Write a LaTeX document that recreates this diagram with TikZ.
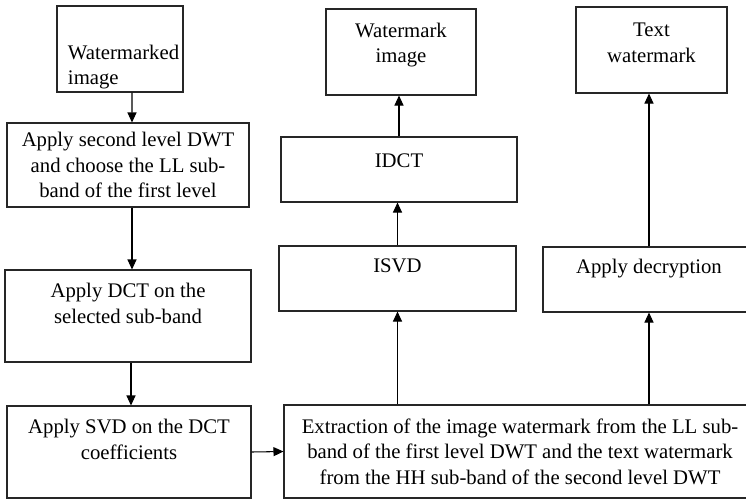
\documentclass[tikz,border=0pt]{standalone}
\usepackage{fontspec}
\setmainfont{Liberation Serif}
\usetikzlibrary{arrows.meta,positioning}

\begin{document}
\begin{tikzpicture}[every node/.style={font=\fontsize{11.8pt}{14.5pt}\selectfont}, stage/.style={draw=black!85, line width=0.6pt, align=center, inner ysep=2pt}, arrow/.style={-{Triangle[length=2mm,width=1.8mm]}, line width=0.6pt}]
\useasboundingbox (0,0) rectangle (14.92,-9.98);
\clip (0,0) rectangle (14.92,-9.98);
% embedding side
\node[stage, minimum width=2.52cm, minimum height=1.72cm, align=left, text width=2.08cm, inner xsep=0.22cm, inner ysep=0pt] (wmimg) at (2.40,-0.98) {\strut\\[4pt]Watermarked\\image};
\node[stage, minimum width=4.84cm, minimum height=1.68cm] (dwt2) at (2.56,-3.30) {Apply second level DWT\\and choose the LL sub-\\band of the first level};
\node[stage, minimum width=4.92cm, minimum height=1.84cm] (dct) at (2.56,-6.32) {Apply DCT on the\\selected sub-band\\\mbox{}};
\node[stage, minimum width=4.88cm, minimum height=1.84cm] (svd) at (2.58,-9.04) {Apply SVD on the DCT\\coefficients\\\mbox{}};
% extraction side
\node[stage, minimum width=9.44cm, minimum height=1.86cm] (extract) at (10.40,-9.03) {Extraction of the image watermark from the LL sub-\\band of the first level DWT and the text watermark\\from the HH sub-band of the second level DWT};
\node[stage, minimum width=4.74cm, minimum height=1.30cm] (isvd) at (7.95,-5.57) {ISVD\\\mbox{}};
\node[stage, minimum width=4.72cm, minimum height=1.30cm] (idct) at (7.98,-3.39) {IDCT\\[-4pt]\mbox{}};
\node[stage, minimum width=3.00cm, minimum height=1.72cm] (wmark) at (8.02,-1.04) {Watermark\\image\\[-4pt]\mbox{}};
\node[stage, minimum width=4.24cm, minimum height=1.30cm] (decrypt) at (12.98,-5.59) {Apply decryption\\\mbox{}};
\node[stage, minimum width=3.02cm, minimum height=1.72cm] (txtwm) at (13.03,-1.00) {Text\\watermark\\[-6pt]\mbox{}};
\draw[arrow] ([xshift=0.24cm]wmimg.south) -- ([xshift=0.08cm]dwt2.north);
\draw[arrow] ([xshift=0.08cm]dwt2.south) -- ([xshift=0.08cm]dct.north);
\draw[arrow] ([xshift=0.06cm]dct.south) -- ([xshift=0.04cm]svd.north);
\draw[arrow] (svd.east) -- (extract.west);
\draw[arrow] (extract.north -| isvd.south) -- (isvd.south);
\draw[arrow] (isvd.north) -- (isvd.north |- idct.south);
\draw[arrow] (idct.north) -- (idct.north |- wmark.south);
\draw[arrow] (extract.north -| decrypt.south) -- (decrypt.south);
\draw[arrow] (decrypt.north) -- (decrypt.north |- txtwm.south);
\end{tikzpicture}
\end{document}
